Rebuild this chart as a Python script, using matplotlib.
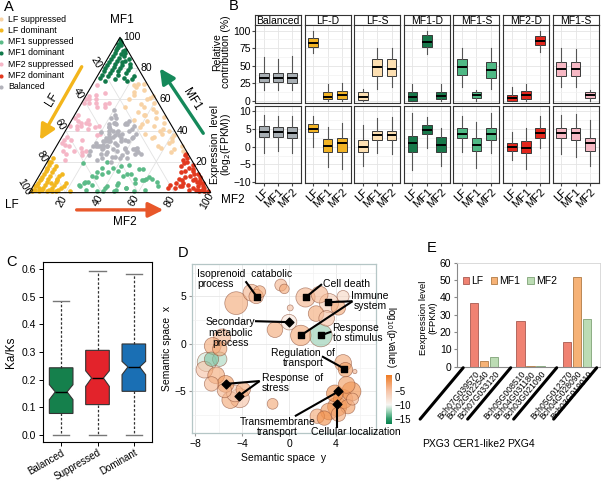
import numpy as np
import matplotlib
matplotlib.use('Agg')
import matplotlib.pyplot as plt
from matplotlib.colors import LinearSegmentedColormap, Normalize
from matplotlib.cm import ScalarMappable

plt.rcParams['font.family'] = ['Liberation Sans', 'DejaVu Sans']

# ---------------- data ----------------
# A: ternary points, percent LF / MF1 (MF2 = 100 - LF - MF1)
lfd_lf = [98, 96, 95, 94, 93, 92, 92, 91, 90, 90, 89, 88, 88, 87, 86, 86, 85, 85, 84, 84, 83, 83, 82, 82,
          81, 81, 80, 80, 79, 79, 78, 78, 77, 77, 76, 76, 97, 93, 89, 87, 85, 83, 81, 79, 77]
lfd_mf1 = [1, 2, 4, 1, 5, 2, 6, 3, 8, 1, 5, 10, 2, 7, 12, 3, 9, 1, 14, 5, 11, 2, 16, 7,
           13, 3, 18, 9, 15, 4, 20, 11, 6, 17, 22, 12, 2, 3, 9, 1, 6, 15, 8, 20, 1]
mf1d_mf1 = [98, 96, 95, 94, 93, 92, 92, 91, 90, 90, 89, 88, 88, 87, 86, 86, 85, 85, 84, 84, 83, 83, 82, 82,
            81, 81, 80, 80, 79, 79, 78, 78, 77, 77, 76, 76, 75, 75, 74, 74, 73, 73, 72, 72, 97]
mf1d_lf = [1, 3, 2, 4, 5, 1, 6, 3, 8, 2, 5, 10, 4, 7, 12, 2, 9, 5, 14, 7, 11, 3, 16, 8,
           13, 4, 18, 10, 15, 6, 20, 12, 8, 17, 22, 13, 19, 5, 24, 11, 16, 7, 22, 10, 1]
mf2d_lf = [1, 2, 3, 1, 4, 2, 5, 1, 3, 6, 2, 8, 4, 1, 10, 3, 6, 12, 2, 7, 5, 14, 1, 9,
           4, 16, 3, 11, 6, 18, 2, 8, 13, 5, 20, 1, 10, 4, 15, 7, 22, 3, 12, 6, 2]
mf2d_mf1 = [1, 3, 1, 6, 2, 8, 4, 12, 6, 2, 15, 3, 9, 18, 5, 12, 1, 8, 22, 14, 19, 4, 25, 10,
            16, 6, 20, 2, 11, 3, 24, 17, 9, 21, 5, 10, 13, 7, 4, 2, 3, 14, 6, 8, 4]
lfs_lf = [1, 3, 5, 2, 8, 4, 10, 6, 12, 2, 15, 7, 3, 9, 18, 5, 11, 1, 14, 6, 20, 8, 4, 13,
          2, 16, 10, 5, 7, 12, 3, 17, 9, 1, 6, 11, 14, 4, 19, 8, 2, 13, 5, 10, 15]
lfs_mf1 = [30, 45, 60, 70, 38, 52, 65, 28, 46, 58, 35, 68, 40, 55, 42, 33, 50, 62, 30, 48, 55, 40, 66, 36,
           27, 44, 57, 70, 32, 50, 61, 38, 26, 49, 41, 63, 52, 35, 47, 69, 37, 29, 54, 43, 60]
mf1s_lf = [35, 48, 62, 28, 55, 40, 66, 30, 45, 58, 36, 70, 50, 42, 33, 47, 60, 27, 52, 39, 68, 44, 31, 57,
           41, 64, 38, 53, 29, 49, 61, 34, 45, 56, 67, 32, 51, 43, 70, 37, 46, 59, 26, 54, 63]
mf1s_mf1 = [2, 6, 1, 9, 4, 12, 7, 15, 3, 10, 18, 5, 13, 1, 8, 20, 11, 4, 16, 6, 2, 14, 9, 3,
            17, 7, 12, 1, 10, 5, 19, 8, 3, 13, 6, 15, 2, 11, 4, 9, 16, 1, 7, 12, 5]
mf2s_lf = [28, 34, 41, 47, 53, 59, 64, 70, 31, 38, 44, 50, 56, 62, 68, 26, 36, 43, 49, 55, 61, 67, 30, 39,
           46, 52, 58, 65, 33, 42, 48, 54, 60, 27, 37, 45, 51, 57, 63, 35, 40, 50, 44, 66, 32]
mf2s_mf1 = [69, 58, 58, 41, 41, 24, 34, 21, 55, 58, 37, 43, 43, 27, 27, 64, 62, 42, 45, 27, 36, 25, 57, 60,
            45, 43, 26, 31, 60, 38, 50, 34, 34, 58, 60, 44, 48, 29, 30, 55, 43, 46, 47, 32, 63]
bal_lf = [33, 25, 40, 30, 45, 22, 35, 28, 50, 38, 27, 42, 31, 36, 48, 24, 55, 29, 34, 41, 26, 37, 44, 32,
          52, 23, 39, 46, 30, 35, 28, 43, 47, 33, 21, 38, 47, 26, 31, 40, 36, 29, 49, 25, 34, 44, 27, 53,
          32, 39, 24, 37, 45, 30, 42, 35, 28, 42, 33, 22, 41, 36, 46, 26, 38, 31, 43, 29, 35, 48, 34, 40,
          27, 37, 30, 45, 33, 39, 25, 32]
bal_mf1 = [33, 40, 28, 45, 25, 38, 22, 50, 30, 36, 27, 30, 45, 31, 25, 44, 24, 33, 40, 39, 29, 38, 26, 37,
           21, 41, 33, 30, 34, 42, 28, 23, 32, 26, 43, 35, 30, 25, 40, 35, 40, 28, 22, 36, 44, 31, 53, 27,
           39, 34, 45, 24, 20, 38, 30, 42, 48, 33, 29, 46, 23, 36, 28, 35, 27, 48, 33, 25, 41, 30, 37, 33,
           26, 32, 44, 29, 28, 22, 44, 35]

cat_names = ['LF suppressed', 'LF dominant', 'MF1 suppressed', 'MF1 dominant',
             'MF2 suppressed', 'MF2 dominant', 'Balanced']
cat_lf = [lfs_lf, lfd_lf, mf1s_lf, mf1d_lf, mf2s_lf, mf2d_lf, bal_lf]
cat_mf1 = [lfs_mf1, lfd_mf1, mf1s_mf1, mf1d_mf1, mf2s_mf1, mf2d_mf1, bal_mf1]
cat_colors = ['#f8d3a6', '#f2b720', '#5cbb88', '#11794a', '#f5b6c6', '#e2391f', '#b3b3bb']

# B: box stats, facets x (LF, MF1, MF2)
facet_names = ['Balanced', 'LF-D', 'LF-S', 'MF1-D', 'MF1-S', 'MF2-D', 'MF1-S']
facet_colors = ['#a8afb4', '#f2b425', '#fde0b2', '#17784a', '#4fb985', '#e2261c', '#f7b8c4']
contrib_med = [[33, 33, 32], [83, 6, 8], [5, 48, 46], [5, 84, 7], [48, 8, 44], [4, 8, 85], [45, 45, 8]]
contrib_q1 = [[27, 27, 25], [77, 2, 3], [1, 36, 35], [0, 76, 2], [37, 4, 32], [0, 3, 79], [36, 36, 4]]
contrib_q3 = [[40, 40, 40], [89, 12, 14], [12, 60, 60], [13, 94, 13], [60, 12, 56], [8, 14, 92], [56, 56, 12]]
contrib_lo = [[15, 15, 15], [68, 0, 0], [0, 17, 20], [0, 67, 0], [20, 0, 17], [0, 0, 70], [20, 20, 0]]
contrib_hi = [[62, 60, 64], [100, 24, 25], [17, 75, 75], [24, 100, 24], [75, 16, 75], [20, 24, 100], [75, 74, 16]]
expr_med = [[4, 4, 3.8], [5, 0.3, 1], [0, 3.3, 3.3], [1, 4.6, 0.5], [3.6, 0.5, 3.6], [0, -0.3, 3.8], [3.8, 3.8, 1]]
expr_q1 = [[2.6, 2.6, 2.4], [4, -1.5, -1.5], [-1.5, 2, 2], [-1.5, 3.5, -1.5], [2.3, -1.3, 1.8], [-1.2, -1.7, 2.3], [2.3, 1.8, -1.3]]
expr_q3 = [[5.7, 5.6, 5.5], [6.3, 2.2, 2.3], [2, 4.5, 4.5], [3, 6, 2.6], [5.3, 2.3, 5.3], [1, 1.7, 5.2], [5.3, 5.3, 2.5]]
expr_lo = [[-1.8, -1.2, -1.8], [0, -5.8, -6.3], [-5.3, -1.8, -2.2], [-6.5, -0.5, -5.3], [-1.5, -6, -1.8], [-3.8, -6.2, -0.5], [-2, -3, -5.5]]
expr_hi = [[9, 8.7, 8.5], [8.5, 5.6, 6.5], [6, 8, 8.2], [9.5, 8.3, 5.3], [8.5, 7, 9.3], [4.2, 5.2, 8.7], [9, 9.2, 7.5]]
parts = ['LF', 'MF1', 'MF2']

# C: Ka/Ks
ka_names = ['Balanced', 'Suppressed', 'Dominant']
ka_colors = ['#15804c', '#e3232b', '#1a6fb4']
ka_q1 = [0.078, 0.11, 0.158]
ka_med = [0.156, 0.206, 0.246]
ka_q3 = [0.243, 0.306, 0.329]
ka_lo = [0.0, 0.0, 0.0]
ka_hi = [0.485, 0.594, 0.581]
ka_ci_lo = [0.128, 0.176, 0.218]
ka_ci_hi = [0.182, 0.232, 0.266]

# D: GO semantic space bubbles
go_x = [-4.5, -3.2, -2.8, -2.5, -0.7, -0.4, -1.2, 0.1, 0.0, 1.4, 1.0, 2.7, 2.6, 3.4, 4.2, 2.3, 3.2, 4.6,
        5.6, 4.6, 4.8, 4.9, 5.3, 4.6, 4.1, 3.4, 2.4, 3.0, 5.0, 4.2, 5.4, 3.9,
        -6.5, -5.7, -5.9, -7.0, -6.6, -5.9, -7.2, -6.2, -5.4, -5.5, -4.2, -5.0, -4.6, -6.6, -3.9, -1.4]
go_y = [4.3, 5.4, 5.0, 5.5, 6.2, 5.8, 1.5, 3.8, 2.3, 4.9, 0.9, 0.9, 5.2, 4.3, 3.8, 3.2, 2.7, 5.0,
        -2.9, -2.0, -2.7, -4.3, -5.0, -5.8, -6.6, -7.1, -7.6, -7.8, -6.6, -7.4, -5.8, -5.2,
        -0.2, 0.7, -0.5, -1.9, -1.6, -1.6, -2.7, -3.3, -4.2, -4.9, -5.7, -5.9, -5.2, -4.2, -4.8, -6.3]
go_r = [9.5, 7, 6, 5, 5, 4, 6.5, 2.5, 6.5, 8, 8.5, 9.5, 7, 8, 6, 6.5, 6.5, 5,
        1.8, 7, 6, 7, 8, 8, 8, 7, 6, 6, 6, 6, 5, 7,
        7, 7, 6, 8, 6, 6, 7, 7, 7, 6, 8, 7, 7, 6, 6, 4.5]
go_p = [-3, -4, -4, -3, -4, -3, -3, -5, -8.5, -4, -3, -12.5, -4, -6, -3, -3, -5, -7,
        -4, -3, -2, -2, -1, -2, -1, -2, -3, -1, -2, -3, -4, -1,
        -3, -4, -3, -11, -13, -12, -5, -3, -2, -4, -5, -3, -6, -4, -3, -3]

go_labels = ['Isoprenoid  catabolic\nprocess', 'Cell death', 'Immune\nsystem', 'Secondary\nmetabolic\nprocess',
             'Response\nto stimulus', 'Regulation  of\ntransport', 'Response  of\nstress',
             'Transmembrane\ntransport', 'Cellular localization']
go_text_xy = [(-7.8, 6.85), (2.9, 6.3), (6.9, 4.5), (-5.0, 1.2), (3.7, 1.15), (1.2, -1.45),
              (-2.3, -4.1), (-1.0, -8.75), (1.9, -9.3)]
go_text_ha = ['left', 'left', 'center', 'center', 'left', 'center', 'left', 'center', 'left']
go_line_from = [(-3.7, 6.6), (2.8, 6.3), (5.4, 4.5), (-2.9, 2.4), (3.6, 1.3), (2.8, -1.3),
                (-2.5, -3.9), (0.5, -7.6), (4.1, -8.8)]
go_targets = [[(-2.7, 4.9)], [(1.4, 4.9)], [(3.3, 4.4), (1.0, 0.9)], [(0.0, 2.3)], [(2.7, 0.9)],
              [(4.7, -2.6)], [(-5.4, -4.2), (-4.3, -5.5)], [(4.2, -5.0)], [(4.1, -6.3)]]
go_marker = ['s', 's', 's', 'D', 's', 's', 'D', 'D', 'D']

# E: expression of genes
genes = ['Bch07G039570', 'Bch02G022540', 'Bch07G033120',
         'Bch05G008510', 'Bch04G031180', 'Bch03G021090',
         'Bch05G012370', 'Bch04G028090', 'Bch03G019010']
gene_groups = ['PXG3', 'CER1-like2', 'PXG4']
e_lf = [37.0, 26.5, 14.5]
e_mf1 = [3.5, 0.3, 52.0]
e_mf2 = [5.5, 0.3, 27.5]

# ---------------- figure ----------------
W, H = 601, 482
fig = plt.figure(figsize=(W / 100, H / 100), dpi=100)


def box(x0, y0, x1, y1):
    return [x0 / W, 1 - y1 / H, (x1 - x0) / W, (y1 - y0) / H]


def ftext(x, y, s, **kw):
    fig.text(x / W, 1 - y / H, s, **kw)


# ---- A ----
axA = fig.add_axes(box(0, 0, 235, 235))
axA.set_xlim(-0.1615, 1.134)
axA.set_ylim(-0.236, 1.074)
axA.axis('off')
s3 = np.sqrt(3) / 2
for v in [0.2, 0.4, 0.6, 0.8]:
    axA.plot([v / 2, 1 - v / 2], [v * s3, v * s3], color='#e2e2e2', lw=0.6, zorder=1)
    axA.plot([v, v + (1 - v) / 2], [0, (1 - v) * s3], color='#e2e2e2', lw=0.6, zorder=1)
    axA.plot([1 - v, (1 - v) / 2], [0, (1 - v) * s3], color='#e2e2e2', lw=0.6, zorder=1)
for name, lf, mf1, c in zip(cat_names, cat_lf, cat_mf1, cat_colors):
    lf = np.array(lf) / 100
    mf1 = np.array(mf1) / 100
    mf2 = 1 - lf - mf1
    axA.scatter(mf2 + mf1 / 2, mf1 * s3, s=11, color=c, lw=0, zorder=2, label=name)
axA.plot([0, 1, 0.5, 0], [0, 0, s3, 0], color='black', lw=0.8, zorder=3)

ticks = [20, 40, 60, 80, 100]
for t in ticks:
    v = t / 100
    axA.annotate(str(t), (1 - v / 2, v * s3), xytext=(2, 0), textcoords='offset points',
                 ha='left', va='center', fontsize=7.5)
    axA.annotate(str(t), ((1 - v) / 2, (1 - v) * s3), xytext=(-4, 4), textcoords='offset points',
                 ha='center', va='center', fontsize=7.5, rotation=-60)
    axA.annotate(str(t), (v, 0), xytext=(-3, -6), textcoords='offset points',
                 ha='center', va='center', fontsize=7.5, rotation=60)

axA.text(0.511, 0.963, 'MF1', ha='center', va='center', fontsize=8.5)
axA.text(-0.095, -0.069, 'LF', ha='center', va='center', fontsize=8.5)
axA.text(1.123, -0.04, 'MF2', ha='center', va='center', fontsize=8.5)

arrow_kw = dict(arrowstyle='-|>,head_length=0.9,head_width=0.45', lw=2.4, shrinkA=0, shrinkB=0)
axA.annotate('', xy=(0.059, 0.294), xytext=(0.289, 0.702), arrowprops=dict(color='#f3b51b', **arrow_kw))
axA.annotate('', xy=(0.720, 0.693), xytext=(0.959, 0.331), arrowprops=dict(color='#15895a', **arrow_kw))
axA.annotate('', xy=(0.739, -0.096), xytext=(0.261, -0.096), arrowprops=dict(color='#e8572a', **arrow_kw))
axA.text(0.123, 0.517, 'LF', rotation=58, ha='center', va='center', fontsize=8.5)
axA.text(0.895, 0.517, 'MF1', rotation=-58, ha='center', va='center', fontsize=8.5)
axA.text(0.528, -0.162, 'MF2', ha='center', va='center', fontsize=8.5)

axA.legend(loc='upper left', bbox_to_anchor=(-3 / W, 1 - 14.5 / H), bbox_transform=fig.transFigure,
           frameon=False, fontsize=6.3, handlelength=0.8, handletextpad=0.5, labelspacing=0.26,
           borderaxespad=0, borderpad=0, markerscale=0.9)

# ---- B ----
for i in range(7):
    x0 = 255 + i * 49.6
    x1 = x0 + 46
    axs = fig.add_axes(box(x0, 15, x1, 25))
    axs.set_xticks([])
    axs.set_yticks([])
    for sp in axs.spines.values():
        sp.set_color('#333333')
        sp.set_linewidth(0.8)
    axs.text(0.5, 0.45, facet_names[i], ha='center', va='center', fontsize=7.5, transform=axs.transAxes)

    rows = [(25, 103, contrib_med, contrib_q1, contrib_q3, contrib_lo, contrib_hi, (-3, 108), [0, 25, 50, 75, 100]),
            (106, 183, expr_med, expr_q1, expr_q3, expr_lo, expr_hi, (-10.2, 11.4), [-10, -5, 0, 5, 10])]
    for r, (y0, y1, med, q1, q3, lo, hi, ylim, yt) in enumerate(rows):
        ax = fig.add_axes(box(x0, y0, x1, y1))
        stats = [dict(med=med[i][k], q1=q1[i][k], q3=q3[i][k], whislo=lo[i][k], whishi=hi[i][k],
                      fliers=[]) for k in range(3)]
        ax.bxp(stats, positions=[1, 2, 3], widths=0.68, patch_artist=True, showcaps=False,
               boxprops=dict(facecolor=facet_colors[i], edgecolor='#3a3a3a', lw=0.7),
               medianprops=dict(color='black', lw=1.4),
               whiskerprops=dict(color='#555555', lw=0.8))
        ax.set_xlim(0.4, 3.6)
        ax.set_ylim(*ylim)
        ax.set_yticks(yt)
        step = yt[1] - yt[0]
        ax.set_yticks([t + step / 2 for t in yt[:-1]], minor=True)
        ax.grid(True, which='major', color='#e4e4e4', lw=0.6)
        ax.grid(True, which='minor', axis='y', color='#f1f1f1', lw=0.5)
        ax.set_axisbelow(True)
        for sp in ax.spines.values():
            sp.set_color('#333333')
            sp.set_linewidth(0.8)
        ax.tick_params(which='minor', length=0)
        ax.tick_params(axis='both', length=2, color='#444444', labelsize=7.5, pad=1)
        if i > 0:
            ax.tick_params(axis='y', left=False, labelleft=False)
        ax.set_xticks([1, 2, 3])
        if r == 1:
            ax.set_xticklabels(parts, rotation=45, ha='right', rotation_mode='anchor', fontsize=8)
        else:
            ax.set_xticklabels([])
            ax.tick_params(axis='x', length=0)

ftext(221.5, 52, 'Relative\ncontribution (%)', rotation=90, ha='center', va='center',
      fontsize=7.5, linespacing=0.95)
ftext(221.5, 145, 'Expression  level\n(log$_2$(FPKM))', rotation=90, ha='center', va='center',
      fontsize=7.5, linespacing=0.95)

# ---- C ----
axC = fig.add_axes(box(43, 262, 152, 442))
stats = [dict(med=ka_med[k], q1=ka_q1[k], q3=ka_q3[k], whislo=ka_lo[k], whishi=ka_hi[k],
              cilo=ka_ci_lo[k], cihi=ka_ci_hi[k], fliers=[]) for k in range(3)]
bp = axC.bxp(stats, positions=[1, 2, 3], widths=0.65, patch_artist=True, shownotches=True,
             capwidths=0.45,
             boxprops=dict(edgecolor='#333333', lw=0.8),
             medianprops=dict(color='black', lw=1.0),
             whiskerprops=dict(color='#333333', lw=0.9, ls=(0, (2, 1.5))),
             capprops=dict(color='#777777', lw=1.0))
for patch, c in zip(bp['boxes'], ka_colors):
    patch.set_facecolor(c)
axC.set_xlim(0.5, 3.5)
axC.set_ylim(-0.025, 0.625)
axC.set_yticks([0, 0.1, 0.2, 0.3, 0.4, 0.5, 0.6])
axC.set_yticklabels(['0.0', '0.1', '0.2', '0.3', '0.4', '0.5', '0.6'])
axC.set_xticks([1, 2, 3])
axC.set_xticklabels(ka_names, rotation=30, ha='right', rotation_mode='anchor', fontsize=7)
axC.tick_params(axis='y', labelsize=7.5)
axC.tick_params(length=3, width=0.7, pad=2)
axC.tick_params(axis='x', pad=1)
for sp in axC.spines.values():
    sp.set_linewidth(0.8)
axC.set_ylabel('Ka/Ks', fontsize=8.5, labelpad=3)

# ---- D ----
axD = fig.add_axes(box(192, 264, 376, 433))
axD.set_xlim(-8.26, 7.4)
axD.set_ylim(-9.37, 8.42)
vmin, vmax = -16.8, 0.6
pos = lambda v: (v - vmin) / (vmax - vmin)
cmap = LinearSegmentedColormap.from_list('go', [(0, '#08804e'), (pos(-15), '#2a9a68'), (pos(-12), '#a9d8c0'),
                                               (pos(-10), '#f7f5f2'), (pos(-5), '#f6c3a6'), (1, '#ef7a22')])
norm = Normalize(vmin=vmin, vmax=vmax)
order = np.argsort(go_r)[::-1]
gx = np.array(go_x)[order]
gy = np.array(go_y)[order]
gs = (2 * 1.2 * np.array(go_r)[order] * 0.72) ** 2
gp = np.array(go_p)[order]
axD.scatter(gx, gy, s=gs, c=gp, cmap=cmap, norm=norm, alpha=0.62, edgecolors='#8a4a32',
            linewidths=0.5, zorder=2)
for lab, txy, ha, lf, tg, mk in zip(go_labels, go_text_xy, go_text_ha, go_line_from, go_targets, go_marker):
    for t in tg:
        axD.plot([lf[0], t[0]], [lf[1], t[1]], color='black', lw=1.5, zorder=3, solid_capstyle='butt')
        axD.scatter([t[0]], [t[1]], marker=mk, s=24 if mk == 's' else 20, color='black', zorder=4)
    axD.text(txy[0], txy[1], lab, ha=ha, va='center', fontsize=7.5, linespacing=1.05, zorder=5)
axD.set_xticks([-8, -4, 0, 4])
axD.set_yticks([-5, 0, 5])
axD.set_xticks([-6, -2, 2, 6], minor=True)
axD.set_yticks([-7.5, -2.5, 2.5, 7.5], minor=True)
axD.grid(True, which='major', color='#e6e6e6', lw=0.6)
axD.grid(True, which='minor', color='#f2f2f2', lw=0.5)
axD.set_axisbelow(True)
for sp in axD.spines.values():
    sp.set_color('#b5c6c6')
    sp.set_linewidth(0.9)
axD.tick_params(which='minor', length=0)
axD.tick_params(labelsize=7.5, length=2, color='#999999', pad=2)
axD.set_xlabel('Semantic space  y', fontsize=7.5, labelpad=3)
axD.set_ylabel('Semantic space  x', fontsize=7.5, labelpad=2)

caxD = fig.add_axes(box(386, 375, 392, 424))
cb = fig.colorbar(ScalarMappable(norm=norm, cmap=cmap), cax=caxD, ticks=[0, -5, -10, -15])
cb.outline.set_visible(False)
cb.ax.tick_params(length=0, labelsize=7, pad=2)
ftext(391, 306, 'log$_{10}$(p-value)', rotation=-90, ha='center', va='top', fontsize=7)

# ---- E ----
axE = fig.add_axes(box(457, 262.7, 600, 366.7))
gpos = np.arange(3) * 4.65
axE.bar(gpos, e_lf, width=0.85, color='#f08272', edgecolor='#a85a50', lw=0.6, label='LF')
axE.bar(gpos + 1, e_mf1, width=0.85, color='#f6b276', edgecolor='#b07a44', lw=0.6, label='MF1')
axE.bar(gpos + 2, e_mf2, width=0.85, color='#bcdcb4', edgecolor='#7fa276', lw=0.6, label='MF2')
axE.set_xlim(-1.72, 12.58)
axE.set_ylim(0, 60)
axE.set_yticks(range(0, 61, 10))
xt = (gpos[:, None] + np.arange(3)[None, :]).ravel()
axE.set_xticks(xt)
axE.set_xticklabels(genes, rotation=50, ha='right', rotation_mode='anchor', fontsize=6.2)
axE.tick_params(axis='x', length=0, pad=2)
axE.tick_params(axis='y', labelsize=7.5, length=2, color='#888888', pad=2)
for side in ['top', 'right']:
    axE.spines[side].set_color('#d4d4d4')
    axE.spines[side].set_linewidth(0.6)
for side in ['left', 'bottom']:
    axE.spines[side].set_color('#8a8a8a')
    axE.spines[side].set_linewidth(0.8)
for xb in [-1.1, 3.65, 8.25, 12.25]:
    axE.annotate('', xy=(xb, -0.01), xycoords=('data', 'axes fraction'), xytext=(-31, -37),
                 textcoords='offset points', annotation_clip=False,
                 arrowprops=dict(arrowstyle='-', lw=2.2, color='black', shrinkA=0, shrinkB=0))
axE.legend(loc='upper left', bbox_to_anchor=(463 / W, 1 - 276 / H), bbox_transform=fig.transFigure,
           ncol=3, frameon=False, fontsize=7.5, handlelength=0.6, handleheight=0.6,
           handletextpad=0.2, columnspacing=0.7, borderaxespad=0, borderpad=0)
ftext(428, 318, 'Eexpression level\n(FPKM)', rotation=90, ha='center', va='center',
      fontsize=6.8, linespacing=1.0)
for gname, gx_px in zip(gene_groups, [436, 479, 521]):
    ftext(gx_px, 444, gname, ha='center', va='center', fontsize=7.5)

# panel letters
for letter, lx, ly in [('A', 4, 0), ('B', 229, -1), ('C', 6, 255), ('D', 178, 246), ('E', 427, 241)]:
    ftext(lx, ly, letter, ha='left', va='top', fontsize=10.5)

fig.savefig('out.png', dpi=100)
